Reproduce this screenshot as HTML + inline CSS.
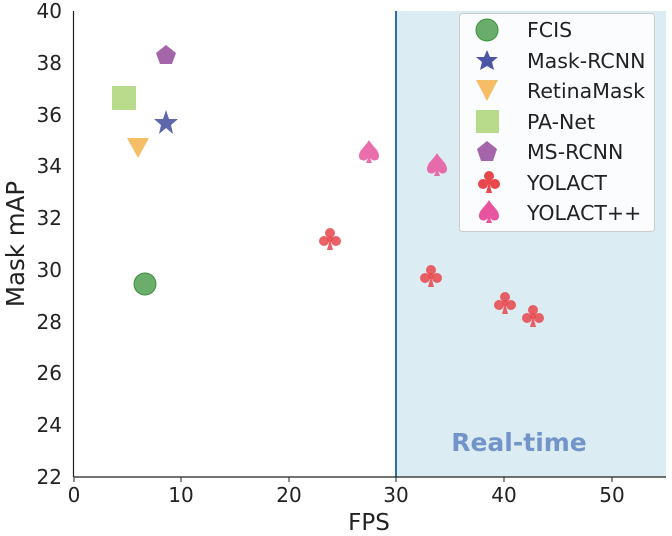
<!DOCTYPE html>
<html><head><style>body{margin:0;background:#fff}svg{display:block;font-family:"DejaVu Sans","Liberation Sans",sans-serif}</style></head><body>
<svg width="672" height="536" xmlns="http://www.w3.org/2000/svg">
<defs>
<g id="club"><circle cx="0" cy="-6" r="5"/><circle cx="-6" cy="2" r="5"/><circle cx="6" cy="2" r="5"/><circle cx="0" cy="0" r="3"/><polygon points="0,0 -3,11 3,11"/></g>
<g id="spade"><path d="M0,-12 C4,-5 10,-2 10,4 C10,9 4,10 1,6 L3,11 L-3,11 L-1,6 C-4,10 -10,9 -10,4 C-10,-2 -4,-5 0,-12 Z"/></g>
</defs>
<rect x="396" y="11" width="270" height="466" fill="#dcecf3"/>
<line x1="396" y1="11" x2="396" y2="477" stroke="#2d6fa8" stroke-width="2"/>
<line x1="73.5" y1="11" x2="73.5" y2="477" stroke="#222" stroke-width="1.2"/>
<line x1="73.5" y1="477" x2="666" y2="477" stroke="#222" stroke-width="1.2"/>
<g font-size="20" fill="#222" text-anchor="middle">
<text x="74" y="502">0</text><text x="181" y="502">10</text><text x="289" y="502">20</text><text x="396" y="502">30</text><text x="504" y="502">40</text><text x="612" y="502">50</text>
</g>
<g font-size="20" fill="#222" text-anchor="end">
<text x="62" y="18">40</text><text x="62" y="70">38</text><text x="62" y="122">36</text><text x="62" y="173">34</text><text x="62" y="225">32</text><text x="62" y="277">30</text><text x="62" y="329">28</text><text x="62" y="380">26</text><text x="62" y="432">24</text><text x="62" y="484">22</text>
</g>
<g stroke="#222"><line x1="74" y1="477" x2="74" y2="482"/><line x1="181" y1="477" x2="181" y2="482"/><line x1="289" y1="477" x2="289" y2="482"/><line x1="396" y1="477" x2="396" y2="482"/><line x1="504" y1="477" x2="504" y2="482"/><line x1="612" y1="477" x2="612" y2="482"/></g>
<text x="369" y="530" font-size="23" fill="#222" text-anchor="middle">FPS</text>
<text transform="translate(24,244) rotate(-90)" font-size="24.5" fill="#222" text-anchor="middle">Mask mAP</text>
<text x="519" y="451" font-size="25" font-weight="bold" fill="#7294c8" text-anchor="middle">Real-time</text>
<circle cx="145" cy="284" r="11" fill="#3a923a" fill-opacity="0.75" stroke="#3a923a"/>
<polygon points="166,45 176,53 172,64 160,64 156,53" fill="#8e3e96" fill-opacity="0.8"/>
<rect x="112" y="86" width="24" height="24" fill="#a8d26e" fill-opacity="0.8"/>
<polygon points="166,110 169,119 178,119 171,125 173,134 166,128 159,134 161,125 154,119 163,119" fill="#4c55a3" fill-opacity="0.9"/>
<polygon points="127,138 149,138 138,158" fill="#f5b14c" fill-opacity="0.85"/>
<g fill="#e8474b" fill-opacity="0.85">
<use href="#club" x="330" y="239"/><use href="#club" x="431" y="276"/><use href="#club" x="505" y="303"/><use href="#club" x="533" y="316"/>
</g>
<g fill="#e8559e" fill-opacity="0.85">
<use href="#spade" x="369" y="152"/><use href="#spade" x="437" y="165"/>
</g>
<rect x="459.5" y="13.5" width="195" height="218" rx="3" fill="#fff" fill-opacity="0.85" stroke="#ccc"/>
<circle cx="487" cy="30" r="11" fill="#3a923a" fill-opacity="0.75" stroke="#3a923a"/>
<polygon points="487,50 490,57 498,57 492,62 494,70 487,66 480,70 482,62 476,57 484,57" fill="#4c55a3"/>
<polygon points="476,80 498,80 487,101" fill="#f5b14c" fill-opacity="0.85"/>
<rect x="476" y="110" width="23" height="23" fill="#a8d26e" fill-opacity="0.8"/>
<polygon points="487,141 497,149 493,161 481,161 477,149" fill="#8e3e96" fill-opacity="0.8"/>
<use href="#club" x="489" y="182" fill="#e8474b"/>
<use href="#spade" x="489" y="212" fill="#e8559e"/>
<g font-size="20.5" fill="#222">
<text x="527" y="37">FCIS</text><text x="527" y="68">Mask-RCNN</text><text x="527" y="98">RetinaMask</text><text x="527" y="129">PA-Net</text><text x="527" y="159">MS-RCNN</text><text x="527" y="190">YOLACT</text><text x="527" y="220">YOLACT++</text>
</g>
</svg>
</body></html>
